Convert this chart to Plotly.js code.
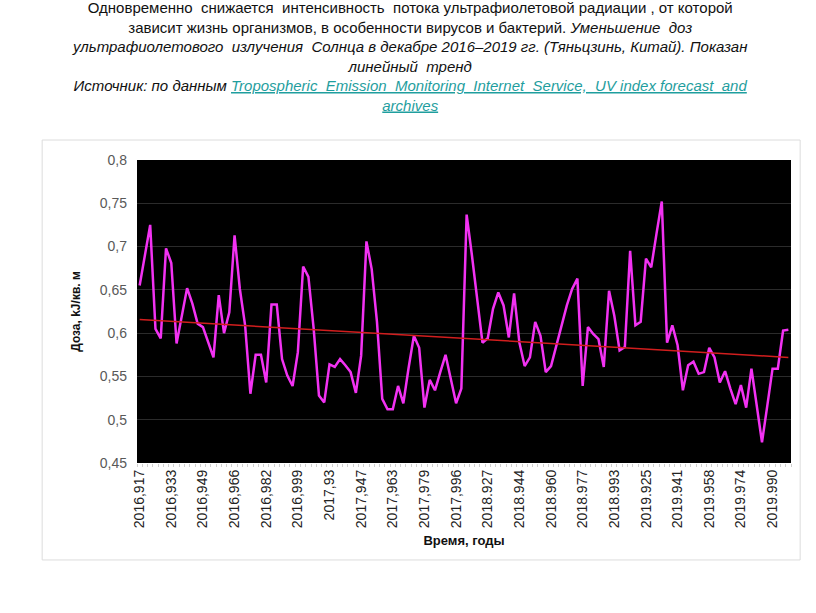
<!DOCTYPE html>
<html>
<head>
<meta charset="utf-8">
<script src="https://cdn.plot.ly/plotly-3.0.1.min.js"></script>
<style>
  html, body { margin: 0; padding: 0; background: #fff; }
  #chart { width: 816px; height: 613px; }
</style>
</head>
<body>
<div id="chart"></div>
<script>
// daily UV dose, December 2016..2019 (31 days each), kJ/m2
const doses = [
    0.655, 0.690, 0.725, 0.605, 0.594, 0.698, 0.681, 0.588, 0.620, 0.652,
    0.634, 0.611, 0.607, 0.589, 0.572, 0.644, 0.600, 0.624, 0.713, 0.651,
    0.609, 0.530, 0.575, 0.575, 0.543, 0.633, 0.633, 0.570, 0.551, 0.539,
    0.578, 0.677, 0.665, 0.605, 0.528, 0.520, 0.564, 0.561, 0.570, 0.563,
    0.555, 0.531, 0.574, 0.706, 0.674, 0.613, 0.524, 0.512, 0.512, 0.539,
    0.519, 0.560, 0.597, 0.583, 0.514, 0.546, 0.534, 0.555, 0.575, 0.547,
    0.519, 0.536, 0.737, 0.690, 0.640, 0.589, 0.594, 0.628, 0.647, 0.632,
    0.595, 0.646, 0.589, 0.562, 0.572, 0.613, 0.597, 0.555, 0.562, 0.586,
    0.609, 0.632, 0.651, 0.663, 0.539, 0.607, 0.599, 0.593, 0.561, 0.649,
    0.620, 0.580, 0.584, 0.695, 0.609, 0.613, 0.686, 0.676, 0.715, 0.752,
    0.589, 0.609, 0.586, 0.534, 0.563, 0.567, 0.553, 0.555, 0.583, 0.572,
    0.543, 0.556, 0.536, 0.518, 0.540, 0.514, 0.559, 0.517, 0.474, 0.516,
    0.559, 0.559, 0.603, 0.604
];

// every 6th day is labelled
const tickLabels = [
    '2016,917', '2016,933', '2016,949', '2016,966', '2016,982', '2016,999',
    '2017,93', '2017,947', '2017,963', '2017,979', '2017,996',
    '2018.927', '2018.944', '2018.960', '2018.977', '2018.993',
    '2019.925', '2019.941', '2019.958', '2019.974', '2019.990'
];
const tickStep = 6;

const days = doses.map((_, i) => i);

// linear trend (least squares)
const n = doses.length;
const mx = days.reduce((a, b) => a + b, 0) / n;
const my = doses.reduce((a, b) => a + b, 0) / n;
let sxy = 0, sxx = 0;
days.forEach((x, i) => {
    sxy += (x - mx) * (doses[i] - my);
    sxx += (x - mx) * (x - mx);
});
const slope = sxy / sxx;
const trend = days.map(x => my + slope * (x - mx));

const linkStyle = 'color:#1f9e9e';
const captionText =
    'Одновременно  снижается  интенсивность  потока ультрафиолетовой радиации , от которой<br>' +
    'зависит жизнь организмов, в особенности вирусов и бактерий. <i>Уменьшение  доз</i><br>' +
    '<i>ультрафиолетового  излучения  Солнца в декабре 2016–2019 гг. (Тяньцзинь, Китай). Показан</i><br>' +
    '<i>линейный  тренд</i><br>' +
    '<i>Источник: по данным </i><span style="' + linkStyle + '"><i><u>Tropospheric  Emission  Monitoring  Internet  Service,  UV index forecast  and</u></i></span><br>' +
    '<span style="' + linkStyle + '"><i><u>archives</u></i></span>';

const data = [
    {
        x: days,
        y: doses,
        type: 'scatter',
        mode: 'lines',
        line: {color: '#f232f2', width: 2.5},
        hoverinfo: 'y'
    },
    {
        x: days,
        y: trend,
        type: 'scatter',
        mode: 'lines',
        line: {color: '#d21e1e', width: 1.5},
        hoverinfo: 'skip'
    }
];

const layout = {
    width: 816,
    height: 613,
    margin: {l: 137, r: 25, t: 160, b: 150},
    paper_bgcolor: '#ffffff',
    plot_bgcolor: '#000000',
    showlegend: false,
    separators: ', ',
    font: {family: 'Liberation Sans, Arial, sans-serif', color: '#222'},
    annotations: [
        {
            text: captionText,
            xref: 'paper', yref: 'paper',
            x: 0.416, y: 1.538,
            xanchor: 'center', yanchor: 'top',
            align: 'center',
            showarrow: false,
            font: {family: 'Liberation Sans, Arial, sans-serif', size: 15, color: '#111'}
        }
    ],
    xaxis: {
        range: [-0.5, n - 0.5],
        tickvals: tickLabels.map((_, k) => k * tickStep),
        ticktext: tickLabels,
        tickangle: -90,
        tickfont: {size: 14, color: '#222'},
        ticks: '',
        ticklabelstandoff: 3,
        showgrid: false,
        zeroline: false,
        showline: false,
        minor: {dtick: 1, tick0: -0.5, ticks: 'outside', ticklen: 3, tickcolor: '#cfcfcf', showgrid: false},
        title: {
            text: '<b>Время, годы</b>',
            font: {size: 13, color: '#111'},
            standoff: 8
        }
    },
    yaxis: {
        range: [0.45, 0.8],
        dtick: 0.05,
        tick0: 0.45,
        tickfont: {size: 14, color: '#595959'},
        ticks: '',
        ticklabelstandoff: 9,
        gridcolor: '#2b2b2b',
        gridwidth: 1,
        zeroline: false,
        showline: false,
        title: {
            text: '<b>Доза, kJ/кв. м</b>',
            font: {size: 12, color: '#111'},
            standoff: 16
        }
    },
    shapes: [
        {
            type: 'rect',
            xref: 'paper', yref: 'paper',
            x0: -0.145, x1: 1.014, y0: -0.32, y1: 1.066,
            line: {color: '#dcdcdc', width: 1},
            layer: 'below'
        }
    ]
};

Plotly.newPlot('chart', data, layout, {staticPlot: true});
</script>
</body>
</html>
